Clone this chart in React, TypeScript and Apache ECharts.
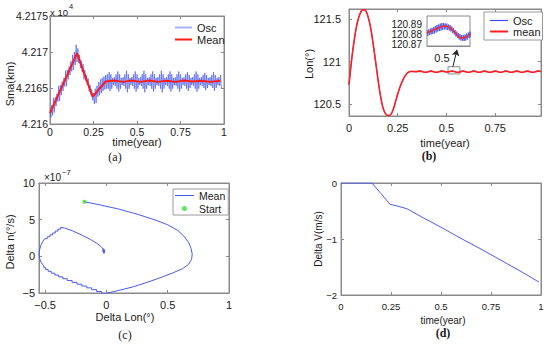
import React, { useEffect, useRef } from "react";
import * as echarts from "echarts";

const FONT = "'Liberation Sans', Arial, Helvetica, sans-serif";
const SERIF = "'Liberation Serif', 'Times New Roman', serif";
const AXIS_COLOR = "#8a8a8a";
const TEXT_COLOR = "#1a1a1a";

// ---------- (a) Sma ----------
const timeTicks = [0, 0.25, 0.5, 0.75, 1];
const smaTicks = [42160, 42165, 42170, 42175];
const OSC_STEP = 0.01;
const smaOscHi = [
  42162.0, 42162.6, 42163.6, 42163.7, 42164.2, 42165.3, 42165.4, 42165.9, 42166.4, 42167.4,
  42167.5, 42168.0, 42168.7, 42169.6, 42170.0, 42171.0, 42170.5, 42169.6, 42168.8, 42168.3,
  42167.5, 42166.8, 42166.3, 42165.4, 42164.8, 42164.3, 42164.9, 42165.3, 42165.8, 42166.2,
  42166.4, 42166.6, 42166.8, 42166.9, 42167.2, 42166.9, 42166.4, 42166.5, 42166.9, 42167.3,
  42166.9, 42166.4, 42166.5, 42166.9, 42167.4, 42166.9, 42166.4, 42166.5, 42166.9, 42167.3,
  42166.9, 42166.4, 42166.5, 42166.9, 42167.4, 42166.9, 42166.4, 42166.5, 42166.9, 42167.3,
  42166.9, 42166.4, 42166.5, 42166.9, 42167.4, 42166.9, 42166.4, 42166.5, 42166.9, 42167.3,
  42166.9, 42166.4, 42166.5, 42166.9, 42167.3, 42166.9, 42166.4, 42166.5, 42166.9, 42167.2,
  42166.8, 42166.4, 42166.5, 42166.9, 42167.3, 42166.9, 42166.4, 42166.5, 42166.8, 42167.1,
  42166.8, 42166.4, 42166.5, 42166.8, 42167.2, 42166.8, 42166.4, 42166.5, 42166.8,
];
const smaOscLo = [
  42160.9, 42161.2, 42161.6, 42162.5, 42163.1, 42163.2, 42164.0, 42164.6, 42165.2, 42165.3,
  42166.2, 42166.8, 42167.3, 42167.5, 42168.2, 42168.6, 42168.5, 42167.8, 42167.2, 42166.2,
  42166.0, 42165.4, 42164.5, 42164.1, 42163.3, 42162.8, 42162.9, 42163.8, 42164.0, 42164.3,
  42164.6, 42164.8, 42164.9, 42164.9, 42164.6, 42164.9, 42165.4, 42165.3, 42164.9, 42164.5,
  42164.9, 42165.4, 42165.3, 42164.9, 42164.4, 42164.9, 42165.4, 42165.3, 42164.9, 42164.5,
  42164.9, 42165.4, 42165.3, 42164.9, 42164.4, 42164.9, 42165.4, 42165.3, 42164.9, 42164.5,
  42164.9, 42165.4, 42165.3, 42164.9, 42164.4, 42164.9, 42165.4, 42165.3, 42164.9, 42164.5,
  42164.9, 42165.4, 42165.3, 42164.9, 42164.5, 42164.9, 42165.4, 42165.3, 42164.9, 42164.6,
  42165.0, 42165.4, 42165.3, 42164.9, 42164.5, 42164.9, 42165.4, 42165.3, 42165.0, 42164.7,
  42165.0, 42165.4, 42165.3, 42165.0, 42164.6, 42165.0, 42165.4, 42165.3, 42165.0,
];
const smaMeanT = [0, 0.155, 0.245, 0.32, 0.37, 0.42, 0.47, 0.52, 0.57, 0.62, 0.67, 0.72, 0.77, 0.82, 0.87, 0.92, 0.98];
const smaMeanV = [
  42161.5, 42169.8, 42163.8, 42165.9, 42166.05, 42165.85, 42166.05, 42165.85, 42166.05,
  42165.85, 42166.0, 42165.85, 42166.05, 42165.9, 42166.0, 42165.85, 42166.0,
];

// ---------- (b) Lon ----------
const lonTicks = [120.5, 121, 121.5];
const lonTimeTicks = [0, 0.25, 0.5, 0.75];
const lonT = [
  0, 0.01, 0.02, 0.03, 0.04, 0.05, 0.06, 0.07, 0.08, 0.09, 0.1, 0.11, 0.12, 0.13, 0.14, 0.15,
  0.16, 0.17, 0.18, 0.19, 0.2, 0.21, 0.22, 0.23, 0.24, 0.25, 0.26, 0.27, 0.28, 0.29, 0.3, 0.31, 0.32,
  0.34, 0.365, 0.3925, 0.42, 0.4475, 0.475, 0.5025, 0.53, 0.5575, 0.585, 0.6125, 0.64, 0.6675,
  0.695, 0.7225, 0.75, 0.7775, 0.805, 0.8325, 0.86, 0.8875, 0.915, 0.9425, 0.97, 0.985,
];
const lonV = [
  120.73, 120.95, 121.14, 121.3, 121.43, 121.52, 121.58, 121.61, 121.61, 121.58, 121.51, 121.41,
  121.27, 121.11, 120.94, 120.77, 120.62, 120.5, 120.42, 120.38, 120.365, 120.37, 120.4, 120.46,
  120.54, 120.62, 120.69, 120.75, 120.8, 120.84, 120.865, 120.88, 120.885,
  120.882, 120.889, 120.875, 120.889, 120.875, 120.889, 120.878, 120.889, 120.875, 120.889,
  120.875, 120.889, 120.875, 120.889, 120.875, 120.889, 120.875, 120.889, 120.875, 120.889,
  120.875, 120.889, 120.875, 120.889, 120.884,
];
// inset
const insetTicks = [120.87, 120.88, 120.89];
const INSET_T0 = 0.505;
const INSET_STEP = 0.0025;
const insetHi = [
  120.884, 120.8845, 120.8855, 120.886, 120.887, 120.888, 120.889, 120.8895, 120.8905, 120.891,
  120.891, 120.8905, 120.8905, 120.8895, 120.889, 120.8875, 120.886, 120.884, 120.8825, 120.881,
  120.88, 120.879, 120.879, 120.8795, 120.8805, 120.8815, 120.8825,
];
const insetLo = [
  120.878, 120.879, 120.8795, 120.88, 120.8805, 120.8815, 120.8825, 120.883, 120.8835, 120.884,
  120.8845, 120.8845, 120.884, 120.8835, 120.8825, 120.881, 120.8795, 120.8775, 120.876, 120.8745,
  120.8735, 120.873, 120.873, 120.8735, 120.8745, 120.876, 120.877,
];
const insetMeanT = [0.505, 0.515, 0.525, 0.532, 0.54, 0.548, 0.556, 0.562, 0.57];
const insetMeanV = [120.881, 120.884, 120.887, 120.888, 120.886, 120.881, 120.876, 120.8765, 120.88];

// ---------- (c) phase ----------
const dLonTicks = [-0.5, 0, 0.5, 1];
const dNTicks = [-5, 0, 5, 10];
const dLon = [
  -0.18, -0.05, 0.1, 0.25, 0.4, 0.5, 0.58, 0.63, 0.67, 0.69, 0.7, 0.695, 0.67, 0.62, 0.55, 0.45,
  0.34, 0.22, 0.1, 0.0,
  -0.04, -0.04, -0.08, -0.08, -0.12, -0.12, -0.16, -0.16, -0.2, -0.2, -0.24, -0.24, -0.28, -0.28,
  -0.32, -0.32, -0.355, -0.355, -0.39, -0.39, -0.42, -0.42, -0.45, -0.45, -0.475, -0.475,
  -0.495, -0.495, -0.51, -0.51,
  -0.53, -0.545, -0.55, -0.545, -0.535, -0.52, -0.505,
  -0.483, -0.483, -0.461, -0.461, -0.439, -0.439, -0.417, -0.417, -0.395, -0.395, -0.373, -0.373,
  -0.34, -0.28, -0.2, -0.13, -0.08, -0.045, -0.025, -0.015, -0.02, -0.03, -0.025, -0.015, -0.018,
  -0.025, -0.02, -0.017,
];
const dN = [
  7.45, 7.0, 6.45, 5.75, 4.95, 4.3, 3.55, 2.8, 1.9, 1.1, 0.3, -0.4, -1.1, -1.7, -2.2, -2.85,
  -3.5, -4.15, -4.65, -5.05,
  -5.05, -4.8, -4.8, -4.55, -4.55, -4.3, -4.3, -4.05, -4.05, -3.8, -3.8, -3.55, -3.55, -3.3,
  -3.3, -3.05, -3.05, -2.8, -2.8, -2.55, -2.55, -2.3, -2.3, -2.05, -2.05, -1.8,
  -1.8, -1.55, -1.55, -1.3,
  -0.9, -0.3, 0.3, 0.9, 1.5, 2.0, 2.4,
  2.4, 2.66, 2.66, 2.92, 2.92, 3.18, 3.18, 3.44, 3.44, 3.7, 3.7, 3.95,
  3.85, 3.5, 2.9, 2.3, 1.8, 1.35, 0.95, 0.6, 0.4, 0.7, 1.05, 0.8, 0.5,
  0.75, 0.9, 0.65,
];
const startLon = [-0.18];
const startN = [7.45];

// ---------- (d) Delta V ----------
const dvTicks = [-2, -1, 0];
const dvT = [0, 0.155, 0.2, 0.245, 0.28, 0.33, 0.4, 0.5, 0.6, 0.7, 0.8, 0.9, 0.99];
const dvV = [0, 0, -0.19, -0.38, -0.41, -0.46, -0.6, -0.79, -0.99, -1.18, -1.38, -1.58, -1.77];

const minusFmt = (v: number) => (v < 0 ? "\u2212" + String(+(-v).toFixed(4)) : String(+v.toFixed(4)));

function mkAxis(
  grid: number,
  min: number,
  max: number,
  ticks: number[],
  opts: { pos: string; fontSize?: number; margin?: number; fmt?: (v: number) => string; labels?: boolean; tickShow?: boolean; lineHeight?: number }
) {
  const labels = opts.labels !== false;
  return {
    type: "value",
    gridIndex: grid,
    min,
    max,
    position: opts.pos,
    axisLine: { show: true, onZero: false, lineStyle: { color: AXIS_COLOR, width: 1 } },
    axisTick: {
      show: opts.tickShow !== false,
      inside: true,
      length: 3,
      customValues: ticks,
      lineStyle: { color: AXIS_COLOR, width: 1 },
    },
    axisLabel: {
      show: labels,
      customValues: ticks,
      showMinLabel: true,
      showMaxLabel: true,
      hideOverlap: false,
      fontSize: opts.fontSize ?? 11,
      lineHeight: opts.lineHeight,
      fontFamily: FONT,
      color: TEXT_COLOR,
      margin: opts.margin ?? 4,
      formatter: opts.fmt ?? minusFmt,
    },
    splitLine: { show: false },
  };
}

function pairs(xs: number[], ys: number[]) {
  return xs.map((x, i) => [x, ys[i]]);
}

function zigzag(t0: number, step: number, hi: number[], lo: number[]) {
  const out: number[][] = [];
  hi.forEach((h, i) => {
    const t = t0 + i * step;
    out.push([t, h]);
    out.push([t + step / 2, lo[i]]);
  });
  return out;
}

function txt(x: number, y: number, text: string, size: number, extra: any = {}) {
  return {
    type: "text",
    x,
    y,
    rotation: extra.rotation ?? 0,
    z: 100,
    style: {
      text,
      fontSize: size,
      fontFamily: extra.fontFamily ?? FONT,
      fontWeight: extra.fontWeight ?? "normal",
      fill: TEXT_COLOR,
      align: extra.align ?? "center",
      verticalAlign: extra.verticalAlign ?? "middle",
    },
  };
}

const lineIcon = (w: number, h: number) => `path://M0,0H${w}V${h}H0Z`;

export default function App() {
  const ref = useRef<HTMLDivElement>(null);

  useEffect(() => {
    if (!ref.current) return;
    const chart = echarts.init(ref.current, null, { renderer: "svg" });

    const gridBase = { show: true, borderColor: AXIS_COLOR, borderWidth: 1, containLabel: false };
    const grids = [
      { ...gridBase, left: 50, top: 16, width: 174, height: 108 },
      { ...gridBase, left: 349, top: 9, width: 192, height: 107 },
      { ...gridBase, left: 39, top: 183, width: 190, height: 110 },
      { ...gridBase, left: 341, top: 183, width: 200, height: 112 },
      { ...gridBase, left: 427, top: 16, width: 43, height: 30, backgroundColor: "#ffffff", z: 5 },
    ];

    const smaFmt = (v: number) => String(parseFloat((v / 10000).toFixed(4)));

    const xAxis = [
      mkAxis(0, 0, 1, timeTicks, { pos: "bottom", fontSize: 10.5, margin: 2 }),
      mkAxis(1, 0, 0.985, lonTimeTicks, { pos: "bottom", fontSize: 11, margin: 6 }),
      mkAxis(2, -0.55, 1, dLonTicks, { pos: "bottom", fontSize: 11, margin: 6 }),
      mkAxis(3, 0, 1, timeTicks, { pos: "bottom", fontSize: 9.5, margin: 6 }),
      mkAxis(4, 0.505, 0.57, [], { pos: "bottom", labels: false, tickShow: false }),
      mkAxis(0, 0, 1, timeTicks, { pos: "top", labels: false }),
      mkAxis(1, 0, 0.985, lonTimeTicks, { pos: "top", labels: false }),
      mkAxis(2, -0.55, 1, dLonTicks, { pos: "top", labels: false }),
      mkAxis(3, 0, 1, timeTicks, { pos: "top", labels: false }),
    ];
    const yAxis = [
      mkAxis(0, 42160, 42175, smaTicks, { pos: "left", fontSize: 10.5, margin: 2, fmt: smaFmt }),
      mkAxis(1, 120.36, 121.62, lonTicks, { pos: "left", fontSize: 11, margin: 8 }),
      mkAxis(2, -5, 10, dNTicks, { pos: "left", fontSize: 11, margin: 4 }),
      mkAxis(3, -2, 0, dvTicks, { pos: "left", fontSize: 9.5, margin: 4 }),
      mkAxis(4, 120.868, 120.898, insetTicks, { pos: "left", fontSize: 10, margin: 5, lineHeight: 10 }),
      mkAxis(0, 42160, 42175, smaTicks, { pos: "right", labels: false }),
      mkAxis(1, 120.36, 121.62, lonTicks, { pos: "right", labels: false }),
      mkAxis(2, -5, 10, dNTicks, { pos: "right", labels: false }),
      mkAxis(3, -2, 0, dvTicks, { pos: "right", labels: false }),
    ];

    const legendText = { fontSize: 11, fontFamily: FONT, color: TEXT_COLOR };

    const option: any = {
      animation: false,
      backgroundColor: "#ffffff",
      grid: grids,
      xAxis,
      yAxis,
      legend: [
        {
          left: 175,
          top: 22,
          orient: "vertical",
          padding: 0,
          itemGap: 1,
          itemWidth: 17,
          itemHeight: 8,
          textStyle: legendText,
          data: [
            { name: "Osc", icon: lineIcon(17, 2), itemStyle: { color: "#aab3f6" } },
            { name: "Mean", icon: lineIcon(17, 2), itemStyle: { color: "#ff1a1a" } },
          ],
        },
        {
          left: 484,
          top: 12,
          orient: "vertical",
          padding: [3, 2, 3, 6],
          itemGap: 0,
          itemWidth: 18,
          itemHeight: 8,
          borderColor: "#9a9a9a",
          borderWidth: 1,
          backgroundColor: "#ffffff",
          textStyle: legendText,
          data: [
            { name: "Osc", icon: lineIcon(18, 1.2), itemStyle: { color: "#3d4ff5" } },
            { name: "mean", icon: lineIcon(18, 2), itemStyle: { color: "#ff2020" } },
          ],
        },
        {
          left: 173,
          top: 189,
          orient: "vertical",
          padding: [1, 3, 1, 2],
          itemGap: 2,
          itemWidth: 19,
          itemHeight: 5,
          borderColor: "#9a9a9a",
          borderWidth: 1,
          backgroundColor: "#ffffff",
          textStyle: { ...legendText, fontSize: 10.5 },
          data: [
            { name: "Mean", icon: lineIcon(19, 1), itemStyle: { color: "#4a5af0" } },
            { name: "Start", icon: "circle", itemStyle: { color: "#2fe22f" } },
          ],
        },
      ],
      series: [
        {
          type: "line",
          name: "Osc",
          xAxisIndex: 0,
          yAxisIndex: 0,
          data: zigzag(0, OSC_STEP, smaOscHi, smaOscLo),
          symbol: "none",
          lineStyle: { color: "#4d5df0", width: 0.7 },
          z: 2,
        },
        {
          type: "line",
          name: "Mean",
          xAxisIndex: 0,
          yAxisIndex: 0,
          data: pairs(smaMeanT, smaMeanV),
          symbol: "none",
          lineStyle: { color: "#ff1a1a", width: 2 },
          z: 3,
        },
        {
          type: "line",
          name: "Osc",
          xAxisIndex: 1,
          yAxisIndex: 1,
          data: pairs(lonT, lonV),
          smooth: true,
          symbol: "none",
          lineStyle: { color: "#3d4ff5", width: 1 },
          z: 2,
        },
        {
          type: "line",
          name: "mean",
          xAxisIndex: 1,
          yAxisIndex: 1,
          data: pairs(lonT, lonV),
          smooth: true,
          symbol: "none",
          lineStyle: { color: "#ff2020", width: 1.6 },
          z: 3,
          markArea: {
            silent: true,
            itemStyle: { color: "rgba(0,0,0,0)", borderColor: "#8a8a8a", borderWidth: 1 },
            data: [[{ coord: [0.508, 120.855] }, { coord: [0.569, 120.94] }]],
          },
          markLine: {
            silent: true,
            symbol: ["none", "arrow"],
            symbolSize: 6,
            label: { show: false },
            lineStyle: { color: "#222222", width: 1, type: "solid" },
            data: [[{ coord: [0.533, 120.94] }, { coord: [0.554, 121.14] }]],
          },
        },
        {
          type: "line",
          name: "Osc",
          xAxisIndex: 4,
          yAxisIndex: 4,
          data: zigzag(INSET_T0, INSET_STEP, insetHi, insetLo),
          symbol: "none",
          lineStyle: { color: "#3d4ff5", width: 0.8 },
          z: 6,
        },
        {
          type: "line",
          name: "mean",
          xAxisIndex: 4,
          yAxisIndex: 4,
          data: pairs(insetMeanT, insetMeanV),
          smooth: true,
          symbol: "none",
          lineStyle: { color: "#ff2020", width: 1.5 },
          z: 7,
        },
        {
          type: "line",
          name: "Mean",
          xAxisIndex: 2,
          yAxisIndex: 2,
          data: pairs(dLon, dN),
          symbol: "none",
          lineStyle: { color: "#4a5af0", width: 1 },
          z: 2,
        },
        {
          type: "scatter",
          name: "Start",
          xAxisIndex: 2,
          yAxisIndex: 2,
          data: pairs(startLon, startN),
          symbol: "circle",
          symbolSize: 4,
          itemStyle: { color: "#2fe22f" },
          z: 3,
        },
        {
          type: "line",
          name: "Delta V",
          xAxisIndex: 3,
          yAxisIndex: 3,
          data: pairs(dvT, dvV),
          symbol: "none",
          lineStyle: { color: "#4d5cf5", width: 1 },
          z: 2,
        },
      ],
      graphic: [
        // (a)
        txt(10, 84, "Sma(km)", 11, { rotation: Math.PI / 2 }),
        txt(137, 142, "time(year)", 11),
        txt(115, 157, "(a)", 12, { fontFamily: SERIF }),
        txt(50, 12, "x 10", 9.5, { align: "left" }),
        txt(69, 6, "4", 7.5, { align: "left" }),
        // (b)
        txt(309, 64, "Lon(\u00b0)", 11, { rotation: Math.PI / 2 }),
        txt(445, 143, "time(year)", 11),
        txt(429, 156, "(b)", 12, { fontFamily: SERIF, fontWeight: "bold" }),
        txt(442, 58, "0.5", 11),
        // (c)
        txt(10, 242, "Delta n(\u00b0/s)", 11, { rotation: Math.PI / 2 }),
        txt(125, 317, "Delta Lon(\u00b0)", 11),
        txt(125, 335, "(c)", 12, { fontFamily: SERIF }),
        txt(44, 177, "\u00d710", 10, { align: "left" }),
        txt(62, 172, "\u22127", 7.5, { align: "left" }),
        // (d)
        txt(318, 239, "Delta V(m/s)", 10, { rotation: Math.PI / 2 }),
        txt(443, 320, "time(year)", 10),
        txt(443, 333, "(d)", 12, { fontFamily: SERIF, fontWeight: "bold" }),
      ],
    };

    chart.setOption(option);
    return () => chart.dispose();
  }, []);

  return (
    <div
      ref={ref}
      style={{ position: "fixed", left: 0, top: 0, width: 550, height: 345, background: "#fff" }}
    />
  );
}
